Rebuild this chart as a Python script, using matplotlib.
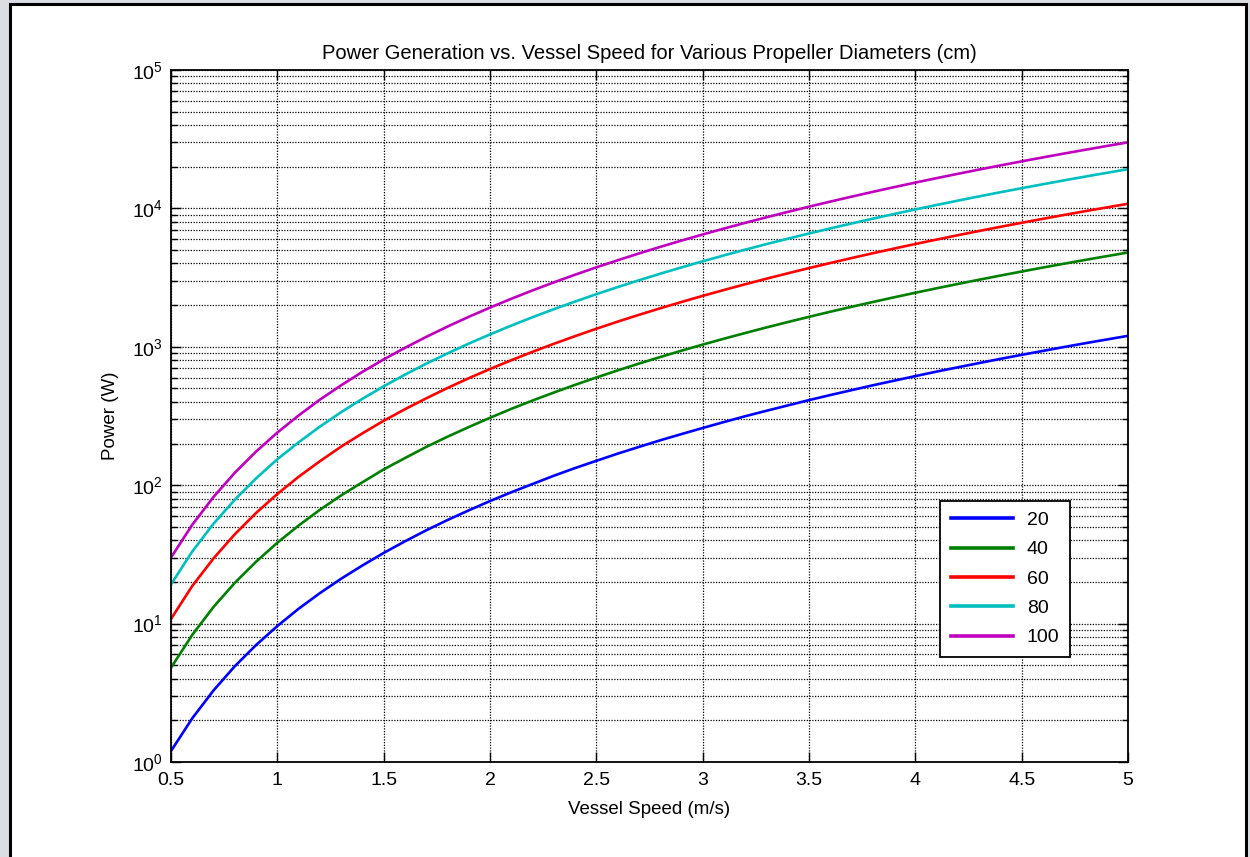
import matplotlib
matplotlib.use("Agg")
import matplotlib.pyplot as plt
from matplotlib.patches import Rectangle
from matplotlib.ticker import LogLocator, NullFormatter

plt.rcParams["font.family"] = ["Liberation Sans", "DejaVu Sans"]
plt.rcParams["mathtext.fontset"] = "custom"
plt.rcParams["mathtext.rm"] = "Liberation Sans"

# -----------------------------
# data
# -----------------------------
speed = [0.5, 0.6, 0.7, 0.8, 0.9, 1.0, 1.1, 1.2, 1.3, 1.4, 1.5, 1.6, 1.7, 1.8,
         1.9, 2.0, 2.1, 2.2, 2.3, 2.4, 2.5, 2.6, 2.7, 2.8, 2.9, 3.0, 3.1, 3.2,
         3.3, 3.4, 3.5, 3.6, 3.7, 3.8, 3.9, 4.0, 4.1, 4.2, 4.3, 4.4, 4.5, 4.6,
         4.7, 4.8, 4.9, 5.0]

diameters = ["20", "40", "60", "80", "100"]

power_20 = [1.2, 2.07, 3.29, 4.92, 7.0, 9.6, 12.8, 16.6, 21.1, 26.3, 32.4,
            39.3, 47.2, 56.0, 65.8, 76.8, 88.9, 102, 117, 133, 150, 169, 189,
            211, 234, 259, 286, 315, 345, 377, 412, 448, 486, 527, 569, 614,
            662, 711, 763, 818, 875, 934, 997, 1062, 1129, 1200]

power_40 = [4.8, 8.29, 13.2, 19.7, 28.0, 38.4, 51.1, 66.4, 84.4, 105, 130,
            157, 189, 224, 263, 307, 356, 409, 467, 531, 600, 675, 756, 843,
            937, 1037, 1144, 1258, 1380, 1509, 1646, 1792, 1945, 2107, 2278,
            2458, 2647, 2845, 3053, 3271, 3499, 3738, 3987, 4247, 4518, 4800]

power_60 = [10.8, 18.7, 29.6, 44.2, 63.0, 86.4, 115, 149, 190, 237, 292, 354,
            424, 504, 593, 691, 800, 920, 1051, 1194, 1350, 1519, 1701, 1897,
            2107, 2333, 2574, 2831, 3105, 3396, 3704, 4031, 4376, 4741, 5125,
            5530, 5955, 6401, 6869, 7360, 7873, 8410, 8970, 9555, 10165, 10800]

power_80 = [19.2, 33.2, 52.7, 78.6, 112, 154, 204, 265, 337, 421, 518, 629,
            755, 896, 1054, 1229, 1423, 1636, 1869, 2123, 2400, 2700, 3023,
            3372, 3746, 4147, 4576, 5033, 5520, 6037, 6586, 7166, 7780, 8428,
            9111, 9830, 10586, 11380, 12213, 13085, 13997, 14951, 15947, 16987,
            18071, 19200]

power_100 = [30, 51.8, 82.3, 123, 175, 240, 319, 415, 527, 659, 810, 983,
             1179, 1400, 1646, 1920, 2223, 2556, 2920, 3318, 3750, 4218, 4724,
             5268, 5853, 6480, 7150, 7864, 8625, 9433, 10290, 11197, 12157,
             13169, 14237, 15360, 16541, 17781, 19082, 20444, 21870, 23361,
             24918, 26544, 28236, 30000]

xticks = [0.5, 1, 1.5, 2, 2.5, 3, 3.5, 4, 4.5, 5]
xtick_labels = ["0.5", "1", "1.5", "2", "2.5", "3", "3.5", "4", "4.5", "5"]

colors = ["#0000ff", "#008000", "#ff0000", "#00bfbf", "#bf00bf"]


def main():
    fig = plt.figure(figsize=(12.5, 8.57), dpi=100)
    fig.patch.set_facecolor("#dcdce3")

    # white figure window with black frame (no bottom edge visible)
    W, H = 1250.0, 857.0
    frame = Rectangle((9.5 / W, -0.05), (1245.5 - 9.5) / W, 1.05 - 3.5 / H,
                      transform=fig.transFigure, facecolor="white",
                      edgecolor="black", linewidth=2.2, zorder=-10)
    fig.patches.append(frame)

    ax = fig.add_axes([171 / W, 1 - 762 / H, (1128 - 171) / W, (762 - 70) / H])
    ax.set_zorder(1)

    series = [power_20, power_40, power_60, power_80, power_100]
    for name, vals, c in zip(diameters, series, colors):
        ax.plot(speed, vals, color=c, linewidth=1.9, label=name)

    ax.set_yscale("log")
    ax.set_xlim(0.5, 5)
    ax.set_ylim(1, 1e5)
    ax.set_xticks(xticks)
    ax.set_xticklabels(xtick_labels)
    ax.yaxis.set_major_locator(LogLocator(base=10, numticks=10))
    ax.yaxis.set_minor_locator(LogLocator(base=10, subs=range(2, 10), numticks=50))
    ax.yaxis.set_minor_formatter(NullFormatter())

    ax.grid(True, which="major", linestyle=(0, (1, 1.2)), color="black", linewidth=0.9)
    ax.grid(True, which="minor", axis="y", linestyle=(0, (1, 1.2)), color="black",
            linewidth=0.9)

    ax.tick_params(which="both", direction="in", top=True, right=True,
                   labelsize=14, width=1)
    ax.tick_params(which="major", length=7, pad=6)
    ax.tick_params(axis="x", which="major", pad=7)
    ax.tick_params(which="minor", length=4)
    for sp in ax.spines.values():
        sp.set_linewidth(1.3)

    ax.set_title("Power Generation vs. Vessel Speed for Various Propeller Diameters (cm)",
                 fontsize=14.5, pad=8)
    ax.set_xlabel("Vessel Speed (m/s)", fontsize=13.5, labelpad=9)
    ax.set_ylabel("Power (W)", fontsize=13.5, labelpad=9)

    leg = ax.legend(loc="lower right", bbox_to_anchor=(0.9394, 0.1517),
                    fontsize=14, handlelength=3.2, handletextpad=0.7,
                    labelspacing=0.6, borderpad=0.55, fancybox=False,
                    framealpha=1, edgecolor="black", borderaxespad=0)
    leg.get_frame().set_linewidth(1.3)
    for line in leg.get_lines():
        line.set_linewidth(2.6)

    fig.savefig("out.png", dpi=100, facecolor=fig.get_facecolor())


if __name__ == "__main__":
    main()
